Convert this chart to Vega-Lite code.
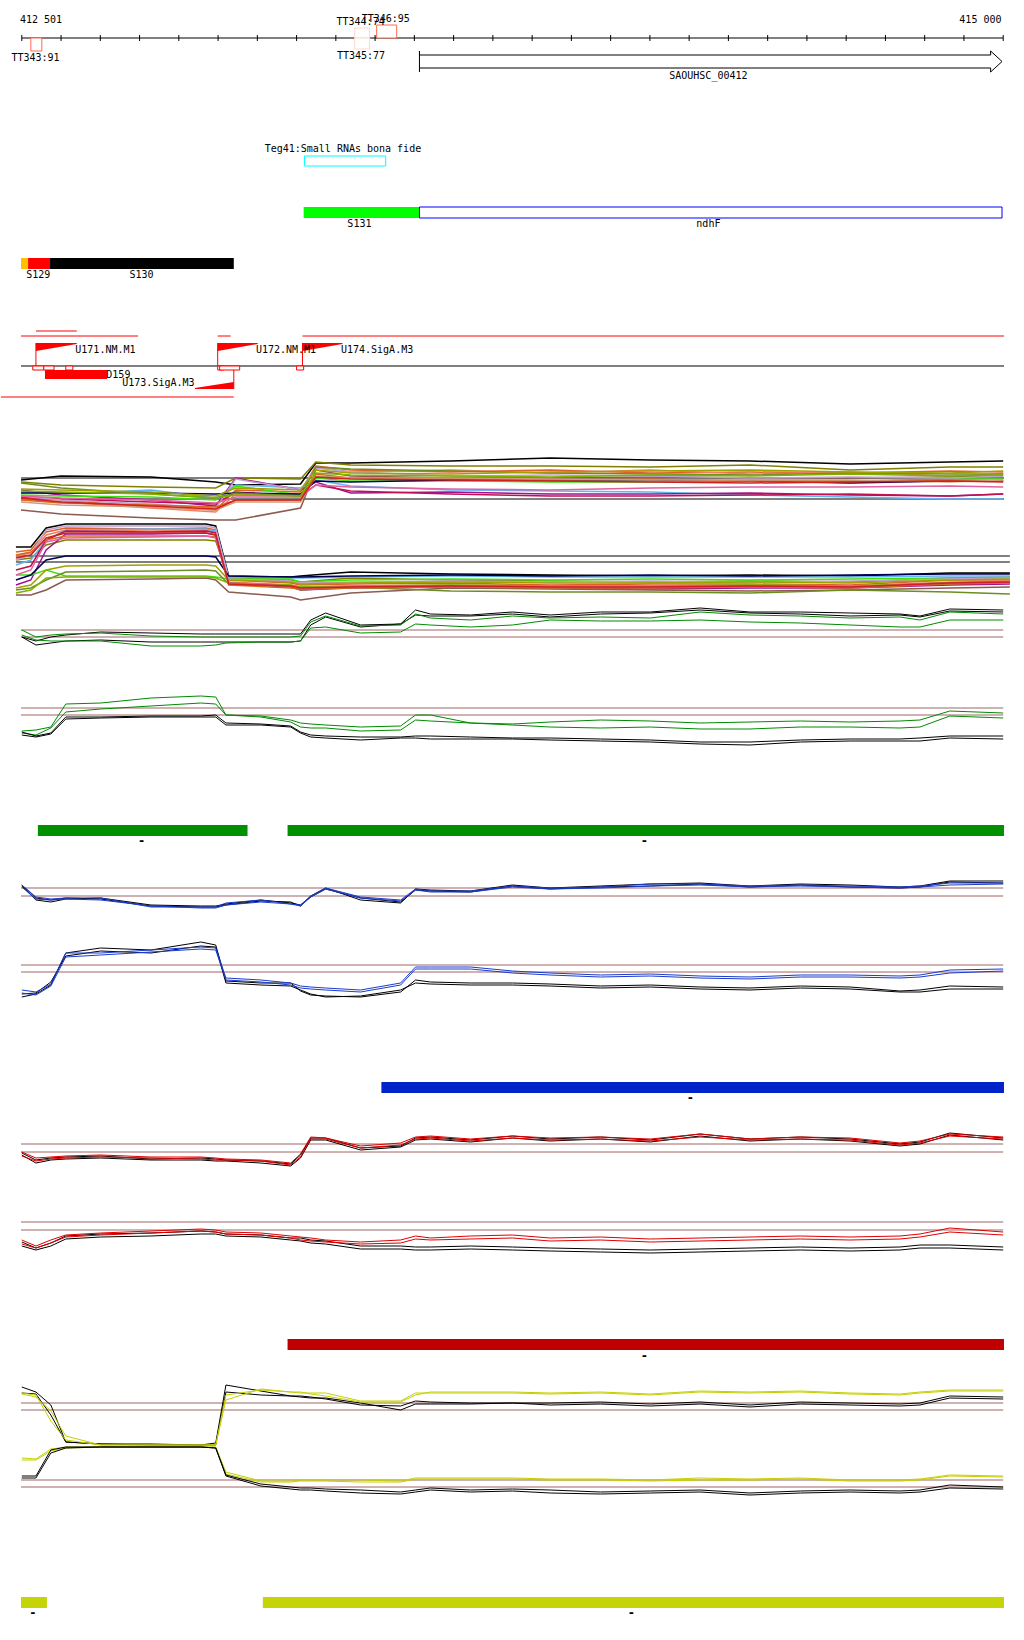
{
"$schema": "https://vega.github.io/schema/vega-lite/v6.json",
"width": 1024, "height": 1640,
"autosize": {"type": "fit", "contains": "padding"},
"padding": 0,
"background": "white",
"config": {"view": {"stroke": null}, "axis": {"disable": true}, "legend": {"disable": true}},
"datasets": {
"ticks": [{"p":412500},{"p":412600},{"p":412700},{"p":412800},{"p":412900},{"p":413000},{"p":413100},{"p":413200},{"p":413300},{"p":413400},{"p":413500},{"p":413600},{"p":413700},{"p":413800},{"p":413900},{"p":414000},{"p":414100},{"p":414200},{"p":414300},{"p":414400},{"p":414500},{"p":414600},{"p":414700},{"p":414800},{"p":414900},{"p":415000}],
"hrules": [
{"kind":"black","start":412500,"end":415000,"y":38},
{"kind":"red","start":412536,"end":412640,"y":331},
{"kind":"red","start":412498,"end":412796,"y":336},
{"kind":"red","start":412999,"end":413032,"y":336},
{"kind":"red","start":413215,"end":415002,"y":336},
{"kind":"red","start":412447,"end":413040,"y":397},
{"kind":"black","start":412498,"end":415002,"y":366},
{"kind":"black","start":412498,"end":415002,"y":478},
{"kind":"black","start":412498,"end":415002,"y":499},
{"kind":"black","start":412485,"end":415017,"y":556},
{"kind":"black","start":412485,"end":415017,"y":562},
{"kind":"thr","start":412498,"end":415000,"y":630},
{"kind":"thr","start":412498,"end":415000,"y":637},
{"kind":"thr","start":412498,"end":415000,"y":708},
{"kind":"thr","start":412498,"end":415000,"y":715},
{"kind":"thr","start":412498,"end":415000,"y":888},
{"kind":"thr","start":412498,"end":415000,"y":896},
{"kind":"thr","start":412498,"end":415000,"y":965},
{"kind":"thr","start":412498,"end":415000,"y":972},
{"kind":"thr","start":412498,"end":415000,"y":1144},
{"kind":"thr","start":412498,"end":415000,"y":1152},
{"kind":"thr","start":412498,"end":415000,"y":1222},
{"kind":"thr","start":412498,"end":415000,"y":1230},
{"kind":"thr","start":412498,"end":415000,"y":1403},
{"kind":"thr","start":412498,"end":415000,"y":1410},
{"kind":"thr","start":412498,"end":415000,"y":1480},
{"kind":"thr","start":412498,"end":415000,"y":1487}
],
"vrules": [
{"kind":"red","p":412536,"top":343,"bottom":366},
{"kind":"red","p":412999,"top":343,"bottom":366},
{"kind":"red","p":413215,"top":343,"bottom":367},
{"kind":"red","p":413040,"top":370,"bottom":389}
],
"filled": [
{"name":"S131","start":413218,"end":413513,"top":207,"bottom":218},
{"name":"S129a","start":412498,"end":412516,"top":258,"bottom":269},
{"name":"S129","start":412516,"end":412572,"top":258,"bottom":269},
{"name":"S130","start":412572,"end":413040,"top":258,"bottom":269},
{"name":"D159","start":412559,"end":412717,"top":370,"bottom":379},
{"name":"c1a","start":412541,"end":413075,"top":825,"bottom":836},
{"name":"c1b","start":413177,"end":415002,"top":825,"bottom":836},
{"name":"c2","start":413416,"end":415002,"top":1082,"bottom":1093},
{"name":"c3","start":413177,"end":415002,"top":1339,"bottom":1350},
{"name":"c4a","start":412498,"end":412564,"top":1597,"bottom":1608},
{"name":"c4b","start":413114,"end":415002,"top":1597,"bottom":1608}
],
"outlined": [
{"kind":"tt_hi","start":412523,"end":412551,"top":38,"bottom":51},
{"kind":"tt_lo","start":413348,"end":413386,"top":28,"bottom":38},
{"kind":"tt_lo","start":413348,"end":413386,"top":38,"bottom":49},
{"kind":"tt_hi","start":413404,"end":413455,"top":25,"bottom":38},
{"kind":"srna","start":413220,"end":413427,"top":156,"bottom":166},
{"kind":"cds","start":413513,"end":414997,"top":207,"bottom":218},
{"kind":"site","start":412528,"end":412556,"top":366,"bottom":370},
{"kind":"site","start":412556,"end":412582,"top":366,"bottom":370},
{"kind":"site","start":412612,"end":412630,"top":366,"bottom":370},
{"kind":"site","start":412999,"end":413014,"top":366,"bottom":370},
{"kind":"site","start":413004,"end":413055,"top":366,"bottom":370},
{"kind":"site","start":413200,"end":413218,"top":366,"bottom":370}
],
"wedges": [
{"name":"U171","p":412536,"top":343,"bottom":351},
{"name":"U171","p":412640,"top":343,"bottom":344},
{"name":"U172","p":412999,"top":343,"bottom":351},
{"name":"U172","p":413101,"top":343,"bottom":344},
{"name":"U174","p":413215,"top":343,"bottom":351},
{"name":"U174","p":413317,"top":343,"bottom":344},
{"name":"U173","p":412941,"top":388,"bottom":389},
{"name":"U173","p":413040,"top":382,"bottom":389}
],
"gene": [
{"o":1,"p":413513,"y":72},
{"o":2,"p":413513,"y":51},
{"o":3,"p":413513,"y":55},
{"o":4,"p":414968,"y":55},
{"o":5,"p":414968,"y":51},
{"o":6,"p":414997,"y":61.5},
{"o":7,"p":414968,"y":72},
{"o":8,"p":414968,"y":68},
{"o":9,"p":413513,"y":68}
],
"labels": [
{"label":"412 501","p":412549,"y":20},
{"label":"415 000","p":414942,"y":20},
{"label":"TT343:91","p":412535,"y":58},
{"label":"TT344:74","p":413363,"y":22},
{"label":"TT346:95","p":413427,"y":19},
{"label":"TT345:77","p":413364,"y":56},
{"label":"SAOUHSC_00412","p":414249,"y":76},
{"label":"Teg41:Small RNAs bona fide","p":413318,"y":149},
{"label":"S131","p":413360,"y":224},
{"label":"ndhF","p":414249,"y":224},
{"label":"S129","p":412542,"y":275},
{"label":"S130","p":412805,"y":275},
{"label":"U171.NM.M1","p":412713,"y":350},
{"label":"U172.NM.M1","p":413173,"y":350},
{"label":"U174.SigA.M3","p":413405,"y":350},
{"label":"D159","p":412746,"y":375},
{"label":"U173.SigA.M3","p":412848,"y":383}
],
"strand": [
{"label":"-","p":412805,"y":841},
{"label":"-","p":414086,"y":841},
{"label":"-","p":414203,"y":1098},
{"label":"-","p":414086,"y":1356},
{"label":"-","p":412528,"y":1613},
{"label":"-","p":414053,"y":1613}
],
"upper": [
{"p":412498,"u01":480,"u02":482,"u03":497,"u04":499,"u05":492,"u06":490,"u07":497,"u08":510,"u09":495,"u10":496,"u11":493,"u12":483,"u13":500,"u14":502,"u15":489,"u16":496,"u17":498,"u18":491},
{"p":412600,"u01":476,"u02":485,"u03":500,"u04":502,"u05":494,"u06":495,"u07":499,"u08":514,"u09":496,"u10":500,"u11":493,"u12":488,"u13":503,"u14":505,"u15":490,"u16":498,"u17":502,"u18":492},
{"p":412829,"u01":477,"u02":487,"u03":507,"u04":508,"u05":490,"u06":500,"u07":502,"u08":518,"u09":497,"u10":504,"u11":493,"u12":494,"u13":505,"u14":507,"u15":492,"u16":500,"u17":506,"u18":494},
{"p":412994,"u01":482,"u02":488,"u03":510,"u04":512,"u05":498,"u06":506,"u07":504,"u08":520,"u09":500,"u10":508,"u11":494,"u12":498,"u13":507,"u14":510,"u15":496,"u16":503,"u17":509,"u18":498},
{"p":413045,"u01":485,"u02":478,"u03":490,"u04":494,"u05":485,"u06":478,"u07":492,"u08":520,"u09":486,"u10":479,"u11":493,"u12":493,"u13":500,"u14":502,"u15":488,"u16":497,"u17":500,"u18":495},
{"p":413210,"u01":484,"u02":479,"u03":492,"u04":495,"u05":488,"u06":490,"u07":496,"u08":508,"u09":495,"u10":490,"u11":494,"u12":496,"u13":500,"u14":502,"u15":490,"u16":497,"u17":500,"u18":496},
{"p":413249,"u01":463,"u02":462,"u03":466,"u04":467,"u05":480,"u06":482,"u07":485,"u08":470,"u09":478,"u10":468,"u11":481,"u12":467,"u13":474,"u14":476,"u15":470,"u16":485,"u17":477,"u18":473},
{"p":413338,"u01":463,"u02":465,"u03":470,"u04":472,"u05":486,"u06":493,"u07":491,"u08":476,"u09":481,"u10":472,"u11":482,"u12":469,"u13":478,"u14":478,"u15":473,"u16":487,"u17":479,"u18":475},
{"p":413592,"u01":461,"u02":466,"u03":472,"u04":470,"u05":490,"u06":492,"u07":494,"u08":478,"u09":481,"u10":476,"u11":480,"u12":471,"u13":479,"u14":478,"u15":474,"u16":489,"u17":480,"u18":476},
{"p":413846,"u01":458,"u02":466,"u03":470,"u04":473,"u05":491,"u06":494,"u07":496,"u08":478,"u09":482,"u10":475,"u11":480,"u12":473,"u13":480,"u14":479,"u15":472,"u16":490,"u17":481,"u18":477},
{"p":414101,"u01":460,"u02":467,"u03":473,"u04":470,"u05":492,"u06":494,"u07":496,"u08":477,"u09":482,"u10":476,"u11":480,"u12":474,"u13":479,"u14":480,"u15":471,"u16":488,"u17":482,"u18":475},
{"p":414355,"u01":461,"u02":465,"u03":472,"u04":474,"u05":495,"u06":493,"u07":495,"u08":478,"u09":480,"u10":478,"u11":481,"u12":475,"u13":481,"u14":480,"u15":470,"u16":487,"u17":483,"u18":476},
{"p":414610,"u01":464,"u02":470,"u03":473,"u04":472,"u05":497,"u06":495,"u07":494,"u08":478,"u09":481,"u10":477,"u11":483,"u12":473,"u13":481,"u14":480,"u15":472,"u16":487,"u17":482,"u18":474},
{"p":414864,"u01":462,"u02":467,"u03":471,"u04":476,"u05":499,"u06":496,"u07":496,"u08":477,"u09":479,"u10":478,"u11":481,"u12":474,"u13":480,"u14":482,"u15":473,"u16":486,"u17":481,"u18":476},
{"p":415000,"u01":461,"u02":467,"u03":472,"u04":474,"u05":499,"u06":494,"u07":494,"u08":476,"u09":479,"u10":476,"u11":481,"u12":474,"u13":481,"u14":480,"u15":471,"u16":487,"u17":482,"u18":475}
],
"lower": [
{"p":412485,"l01":547,"l02":560,"l03":552,"l04":556,"l05":565,"l06":585,"l07":570,"l08":595,"l09":575,"l10":560,"l11":580,"l12":590,"l13":555,"l14":588,"l15":593,"l16":575,"l17":558},
{"p":412523,"l01":547,"l02":558,"l03":550,"l04":553,"l05":560,"l06":580,"l07":566,"l08":595,"l09":575,"l10":555,"l11":575,"l12":588,"l13":552,"l14":585,"l15":590,"l16":570,"l17":555},
{"p":412562,"l01":528,"l02":545,"l03":532,"l04":535,"l05":540,"l06":550,"l07":540,"l08":590,"l09":570,"l10":530,"l11":560,"l12":580,"l13":540,"l14":570,"l15":578,"l16":542,"l17":538},
{"p":412612,"l01":524,"l02":540,"l03":528,"l04":530,"l05":530,"l06":534,"l07":531,"l08":580,"l09":576,"l10":526,"l11":556,"l12":572,"l13":536,"l14":566,"l15":577,"l16":538,"l17":533},
{"p":412829,"l01":524,"l02":540,"l03":529,"l04":531,"l05":529,"l06":534,"l07":532,"l08":579,"l09":576,"l10":526,"l11":556,"l12":571,"l13":536,"l14":565,"l15":577,"l16":537,"l17":533},
{"p":412969,"l01":524,"l02":540,"l03":528,"l04":530,"l05":529,"l06":533,"l07":531,"l08":578,"l09":576,"l10":526,"l11":556,"l12":570,"l13":536,"l14":565,"l15":577,"l16":536,"l17":533},
{"p":412994,"l01":526,"l02":541,"l03":530,"l04":532,"l05":531,"l06":535,"l07":533,"l08":580,"l09":577,"l10":528,"l11":557,"l12":571,"l13":537,"l14":566,"l15":578,"l16":538,"l17":535},
{"p":413027,"l01":576,"l02":578,"l03":580,"l04":582,"l05":577,"l06":583,"l07":584,"l08":592,"l09":579,"l10":579,"l11":576,"l12":584,"l13":585,"l14":580,"l15":583,"l16":583,"l17":584},
{"p":413185,"l01":577,"l02":580,"l03":583,"l04":585,"l05":578,"l06":587,"l07":586,"l08":597,"l09":579,"l10":581,"l11":577,"l12":586,"l13":588,"l14":582,"l15":585,"l16":586,"l17":586},
{"p":413210,"l01":576,"l02":582,"l03":585,"l04":587,"l05":578,"l06":590,"l07":588,"l08":600,"l09":582,"l10":583,"l11":577,"l12":590,"l13":589,"l14":584,"l15":587,"l16":588,"l17":588},
{"p":413338,"l01":572,"l02":578,"l03":584,"l04":586,"l05":577,"l06":588,"l07":587,"l08":593,"l09":580,"l10":582,"l11":576,"l12":587,"l13":588,"l14":583,"l15":586,"l16":587,"l17":587},
{"p":413592,"l01":574,"l02":580,"l03":583,"l04":585,"l05":576,"l06":587,"l07":586,"l08":588,"l09":579,"l10":581,"l11":575,"l12":591,"l13":587,"l14":582,"l15":585,"l16":586,"l17":586},
{"p":413846,"l01":575,"l02":581,"l03":585,"l04":586,"l05":577,"l06":588,"l07":587,"l08":589,"l09":580,"l10":582,"l11":576,"l12":592,"l13":588,"l14":583,"l15":586,"l16":587,"l17":587},
{"p":414101,"l01":576,"l02":582,"l03":584,"l04":586,"l05":577,"l06":589,"l07":587,"l08":590,"l09":579,"l10":581,"l11":575,"l12":592,"l13":588,"l14":583,"l15":586,"l16":587,"l17":587},
{"p":414355,"l01":575,"l02":581,"l03":584,"l04":585,"l05":577,"l06":588,"l07":586,"l08":591,"l09":580,"l10":582,"l11":576,"l12":593,"l13":587,"l14":582,"l15":585,"l16":586,"l17":586},
{"p":414610,"l01":576,"l02":582,"l03":585,"l04":586,"l05":577,"l06":588,"l07":587,"l08":590,"l09":579,"l10":581,"l11":575,"l12":590,"l13":588,"l14":583,"l15":586,"l16":587,"l17":587},
{"p":414864,"l01":573,"l02":578,"l03":580,"l04":582,"l05":576,"l06":585,"l07":583,"l08":588,"l09":578,"l10":579,"l11":574,"l12":592,"l13":584,"l14":580,"l15":583,"l16":583,"l17":583},
{"p":415017,"l01":573,"l02":577,"l03":580,"l04":581,"l05":576,"l06":584,"l07":582,"l08":587,"l09":578,"l10":578,"l11":574,"l12":594,"l13":583,"l14":579,"l15":582,"l16":582,"l17":582}
],
"tracks": [
{"p":412500,"gA":637,"gB":637,"gC":630,"gD":635,"gE":731,"gF":733,"gG":732,"gH":735,"bA":885,"bB":886,"bC":885,"bD":887,"bE":997,"bF":994,"bG":990,"bH":993,"rA":1153,"rB":1155,"rC":1152,"rD":1156,"rE":1242,"rF":1246,"rG":1240,"rH":1244,"yA":1387,"yB":1393,"yC":1393,"yD":1394,"yE":1458,"yF":1460,"yG":1476,"yH":1478},
{"p":412536,"gA":641,"gB":645,"gC":637,"gD":640,"gE":730,"gF":735,"gG":736,"gH":737,"bA":898,"bB":900,"bC":897,"bD":899,"bE":994,"bF":993,"bG":992,"bH":995,"rA":1160,"rB":1163,"rC":1158,"rD":1161,"rE":1248,"rF":1250,"rG":1246,"rH":1248,"yA":1392,"yB":1394,"yC":1395,"yD":1397,"yE":1459,"yF":1460,"yG":1476,"yH":1478},
{"p":412574,"gA":637,"gB":643,"gC":635,"gD":641,"gE":727,"gF":728,"gG":733,"gH":734,"bA":900,"bB":902,"bC":899,"bD":900,"bE":985,"bF":982,"bG":984,"bH":986,"rA":1158,"rB":1160,"rC":1157,"rD":1159,"rE":1243,"rF":1246,"rG":1240,"rH":1243,"yA":1405,"yB":1415,"yC":1421,"yD":1411,"yE":1449,"yF":1451,"yG":1450,"yH":1453},
{"p":412612,"gA":635,"gB":641,"gC":634,"gD":641,"gE":704,"gF":712,"gG":717,"gH":719,"bA":898,"bB":899,"bC":898,"bD":899,"bE":953,"bF":956,"bG":953,"bH":957,"rA":1157,"rB":1159,"rC":1156,"rD":1158,"rE":1236,"rF":1239,"rG":1235,"rH":1237,"yA":1442,"yB":1442,"yC":1440,"yD":1436,"yE":1447,"yF":1448,"yG":1447,"yH":1448},
{"p":412701,"gA":632,"gB":640,"gC":633,"gD":641,"gE":703,"gF":709,"gG":717,"gH":718,"bA":899,"bB":898,"bC":898,"bD":900,"bE":948,"bF":951,"bG":953,"bH":955,"rA":1156,"rB":1158,"rC":1155,"rD":1157,"rE":1234,"rF":1237,"rG":1233,"rH":1235,"yA":1444,"yB":1444,"yC":1445,"yD":1445,"yE":1447,"yF":1447,"yG":1447,"yH":1447},
{"p":412829,"gA":633,"gB":642,"gC":636,"gD":646,"gE":698,"gF":706,"gG":716,"gH":717,"bA":906,"bB":905,"bC":907,"bD":906,"bE":950,"bF":953,"bG":950,"bH":952,"rA":1159,"rB":1160,"rC":1157,"rD":1158,"rE":1233,"rF":1236,"rG":1231,"rH":1233,"yA":1445,"yB":1444,"yC":1445,"yD":1445,"yE":1447,"yF":1447,"yG":1447,"yH":1447},
{"p":412956,"gA":634,"gB":642,"gC":637,"gD":646,"gE":696,"gF":703,"gG":716,"gH":717,"bA":907,"bB":906,"bC":907,"bD":908,"bE":942,"bF":946,"bG":947,"bH":949,"rA":1158,"rB":1160,"rC":1157,"rD":1159,"rE":1231,"rF":1234,"rG":1229,"rH":1231,"yA":1445,"yB":1445,"yC":1445,"yD":1445,"yE":1447,"yF":1447,"yG":1447,"yH":1447},
{"p":412994,"gA":634,"gB":642,"gC":637,"gD":645,"gE":697,"gF":704,"gG":715,"gH":717,"bA":907,"bB":906,"bC":907,"bD":908,"bE":945,"bF":947,"bG":948,"bH":950,"rA":1159,"rB":1161,"rC":1158,"rD":1160,"rE":1232,"rF":1234,"rG":1230,"rH":1232,"yA":1443,"yB":1445,"yC":1445,"yD":1445,"yE":1447,"yF":1447,"yG":1448,"yH":1448},
{"p":413020,"gA":634,"gB":642,"gC":637,"gD":643,"gE":715,"gF":715,"gG":723,"gH":725,"bA":905,"bB":904,"bC":903,"bD":905,"bE":981,"bF":983,"bG":978,"bH":980,"rA":1160,"rB":1161,"rC":1159,"rD":1160,"rE":1234,"rF":1236,"rG":1232,"rH":1234,"yA":1385,"yB":1392,"yC":1395,"yD":1400,"yE":1472,"yF":1474,"yG":1475,"yH":1476},
{"p":413109,"gA":634,"gB":642,"gC":637,"gD":642,"gE":716,"gF":717,"gG":724,"gH":725,"bA":901,"bB":900,"bC":900,"bD":902,"bE":983,"bF":985,"bG":980,"bH":982,"rA":1161,"rB":1163,"rC":1160,"rD":1161,"rE":1235,"rF":1237,"rG":1233,"rH":1235,"yA":1391,"yB":1395,"yC":1390,"yD":1389,"yE":1481,"yF":1482,"yG":1484,"yH":1486},
{"p":413185,"gA":634,"gB":642,"gC":637,"gD":642,"gE":720,"gF":722,"gG":726,"gH":727,"bA":902,"bB":903,"bC":904,"bD":904,"bE":983,"bF":986,"bG":983,"bH":985,"rA":1164,"rB":1166,"rC":1163,"rD":1165,"rE":1238,"rF":1240,"rG":1236,"rH":1238,"yA":1396,"yB":1396,"yC":1392,"yD":1392,"yE":1481,"yF":1482,"yG":1487,"yH":1489},
{"p":413210,"gA":634,"gB":641,"gC":636,"gD":641,"gE":723,"gF":727,"gG":732,"gH":733,"bA":906,"bB":905,"bC":905,"bD":906,"bE":991,"bF":990,"bG":986,"bH":988,"rA":1155,"rB":1158,"rC":1154,"rD":1157,"rE":1238,"rF":1241,"rG":1237,"rH":1240,"yA":1397,"yB":1396,"yC":1393,"yD":1392,"yE":1480,"yF":1481,"yG":1488,"yH":1490},
{"p":413236,"gA":620,"gB":625,"gC":622,"gD":628,"gE":724,"gF":728,"gG":735,"gH":737,"bA":896,"bB":897,"bC":896,"bD":897,"bE":995,"bF":994,"bG":987,"bH":989,"rA":1138,"rB":1140,"rC":1137,"rD":1139,"rE":1240,"rF":1243,"rG":1238,"rH":1241,"yA":1398,"yB":1397,"yC":1393,"yD":1394,"yE":1480,"yF":1481,"yG":1488,"yH":1490},
{"p":413274,"gA":613,"gB":617,"gC":616,"gD":627,"gE":725,"gF":728,"gG":736,"gH":738,"bA":888,"bB":889,"bC":888,"bD":889,"bE":996,"bF":997,"bG":988,"bH":990,"rA":1138,"rB":1140,"rC":1138,"rD":1139,"rE":1241,"rF":1244,"rG":1240,"rH":1242,"yA":1398,"yB":1399,"yC":1393,"yD":1396,"yE":1480,"yF":1481,"yG":1489,"yH":1491},
{"p":413363,"gA":625,"gB":627,"gC":626,"gD":633,"gE":727,"gF":731,"gG":737,"gH":740,"bA":900,"bB":898,"bC":897,"bD":898,"bE":997,"bF":996,"bG":990,"bH":992,"rA":1148,"rB":1150,"rC":1146,"rD":1148,"rE":1246,"rF":1249,"rG":1242,"rH":1244,"yA":1403,"yB":1405,"yC":1401,"yD":1402,"yE":1480,"yF":1482,"yG":1490,"yH":1493},
{"p":413465,"gA":624,"gB":624,"gC":625,"gD":632,"gE":726,"gF":730,"gG":737,"gH":738,"bA":903,"bB":902,"bC":900,"bD":901,"bE":992,"bF":990,"bG":983,"bH":985,"rA":1146,"rB":1147,"rC":1143,"rD":1145,"rE":1246,"rF":1249,"rG":1240,"rH":1243,"yA":1410,"yB":1406,"yC":1401,"yD":1402,"yE":1481,"yF":1482,"yG":1492,"yH":1494},
{"p":413503,"gA":610,"gB":615,"gC":614,"gD":624,"gE":715,"gF":720,"gG":736,"gH":738,"bA":889,"bB":890,"bC":889,"bD":890,"bE":980,"bF":983,"bG":967,"bH":969,"rA":1138,"rB":1140,"rC":1137,"rD":1139,"rE":1247,"rF":1250,"rG":1236,"rH":1239,"yA":1404,"yB":1401,"yC":1393,"yD":1395,"yE":1478,"yF":1479,"yG":1490,"yH":1492},
{"p":413541,"gA":614,"gB":616,"gC":618,"gD":625,"gE":715,"gF":721,"gG":736,"gH":739,"bA":890,"bB":891,"bC":891,"bD":892,"bE":982,"bF":984,"bG":967,"bH":969,"rA":1137,"rB":1139,"rC":1136,"rD":1138,"rE":1247,"rF":1250,"rG":1238,"rH":1240,"yA":1404,"yB":1402,"yC":1393,"yD":1392,"yE":1478,"yF":1479,"yG":1488,"yH":1490},
{"p":413643,"gA":615,"gB":616,"gC":620,"gD":627,"gE":723,"gF":723,"gG":737,"gH":739,"bA":891,"bB":892,"bC":891,"bD":892,"bE":983,"bF":985,"bG":967,"bH":969,"rA":1140,"rB":1142,"rC":1139,"rD":1141,"rE":1246,"rF":1249,"rG":1236,"rH":1239,"yA":1404,"yB":1403,"yC":1393,"yD":1392,"yE":1478,"yF":1479,"yG":1490,"yH":1492},
{"p":413750,"gA":612,"gB":614,"gC":616,"gD":625,"gE":724,"gF":725,"gG":738,"gH":739,"bA":885,"bB":886,"bC":886,"bD":887,"bE":983,"bF":985,"bG":971,"bH":973,"rA":1136,"rB":1138,"rC":1136,"rD":1138,"rE":1247,"rF":1250,"rG":1235,"rH":1238,"yA":1403,"yB":1403,"yC":1393,"yD":1392,"yE":1478,"yF":1479,"yG":1489,"yH":1491},
{"p":413846,"gA":615,"gB":617,"gC":618,"gD":620,"gE":722,"gF":727,"gG":738,"gH":740,"bA":888,"bB":889,"bC":888,"bD":889,"bE":984,"bF":986,"bG":973,"bH":975,"rA":1139,"rB":1141,"rC":1138,"rD":1140,"rE":1248,"rF":1251,"rG":1238,"rH":1241,"yA":1403,"yB":1405,"yC":1394,"yD":1393,"yE":1479,"yF":1480,"yG":1490,"yH":1493},
{"p":413974,"gA":612,"gB":614,"gC":617,"gD":621,"gE":720,"gF":728,"gG":739,"gH":741,"bA":886,"bB":887,"bC":887,"bD":888,"bE":986,"bF":988,"bG":975,"bH":977,"rA":1137,"rB":1139,"rC":1137,"rD":1139,"rE":1249,"rF":1252,"rG":1237,"rH":1240,"yA":1402,"yB":1404,"yC":1393,"yD":1392,"yE":1479,"yF":1480,"yG":1492,"yH":1494},
{"p":414101,"gA":612,"gB":613,"gC":618,"gD":621,"gE":721,"gF":727,"gG":740,"gH":742,"bA":884,"bB":886,"bC":884,"bD":886,"bE":985,"bF":987,"bG":974,"bH":976,"rA":1140,"rB":1142,"rC":1139,"rD":1141,"rE":1250,"rF":1253,"rG":1239,"rH":1242,"yA":1404,"yB":1406,"yC":1395,"yD":1394,"yE":1480,"yF":1481,"yG":1491,"yH":1493},
{"p":414228,"gA":608,"gB":610,"gC":612,"gD":620,"gE":723,"gF":729,"gG":742,"gH":744,"bA":883,"bB":884,"bC":884,"bD":885,"bE":987,"bF":989,"bG":976,"bH":978,"rA":1134,"rB":1136,"rC":1134,"rD":1137,"rE":1249,"rF":1252,"rG":1238,"rH":1241,"yA":1402,"yB":1404,"yC":1392,"yD":1391,"yE":1478,"yF":1480,"yG":1490,"yH":1492},
{"p":414355,"gA":612,"gB":613,"gC":615,"gD":622,"gE":722,"gF":729,"gG":742,"gH":745,"bA":886,"bB":887,"bC":886,"bD":887,"bE":988,"bF":990,"bG":977,"bH":979,"rA":1139,"rB":1141,"rC":1139,"rD":1140,"rE":1248,"rF":1251,"rG":1237,"rH":1240,"yA":1405,"yB":1407,"yC":1393,"yD":1392,"yE":1479,"yF":1480,"yG":1493,"yH":1495},
{"p":414483,"gA":612,"gB":614,"gC":616,"gD":623,"gE":721,"gF":727,"gG":740,"gH":742,"bA":884,"bB":885,"bC":885,"bD":886,"bE":986,"bF":988,"bG":975,"bH":977,"rA":1137,"rB":1139,"rC":1137,"rD":1139,"rE":1247,"rF":1250,"rG":1236,"rH":1239,"yA":1402,"yB":1404,"yC":1392,"yD":1391,"yE":1478,"yF":1479,"yG":1491,"yH":1493},
{"p":414610,"gA":613,"gB":616,"gC":618,"gD":625,"gE":722,"gF":727,"gG":739,"gH":741,"bA":885,"bB":887,"bC":886,"bD":887,"bE":987,"bF":989,"bG":975,"bH":977,"rA":1139,"rB":1141,"rC":1138,"rD":1140,"rE":1248,"rF":1251,"rG":1237,"rH":1240,"yA":1403,"yB":1405,"yC":1394,"yD":1393,"yE":1480,"yF":1481,"yG":1490,"yH":1492},
{"p":414737,"gA":614,"gB":615,"gC":617,"gD":627,"gE":721,"gF":728,"gG":739,"gH":741,"bA":887,"bB":888,"bC":887,"bD":888,"bE":991,"bF":992,"bG":976,"bH":978,"rA":1144,"rB":1146,"rC":1143,"rD":1145,"rE":1247,"rF":1250,"rG":1236,"rH":1239,"yA":1404,"yB":1406,"yC":1395,"yD":1394,"yE":1480,"yF":1481,"yG":1491,"yH":1493},
{"p":414788,"gA":616,"gB":617,"gC":620,"gD":627,"gE":720,"gF":727,"gG":738,"gH":741,"bA":886,"bB":887,"bC":886,"bD":887,"bE":990,"bF":992,"bG":975,"bH":977,"rA":1142,"rB":1144,"rC":1141,"rD":1143,"rE":1245,"rF":1248,"rG":1234,"rH":1237,"yA":1403,"yB":1405,"yC":1393,"yD":1392,"yE":1479,"yF":1480,"yG":1490,"yH":1492},
{"p":414864,"gA":609,"gB":611,"gC":612,"gD":620,"gE":711,"gF":716,"gG":736,"gH":738,"bA":881,"bB":882,"bC":883,"bD":885,"bE":986,"bF":989,"bG":970,"bH":973,"rA":1133,"rB":1135,"rC":1134,"rD":1136,"rE":1245,"rF":1248,"rG":1228,"rH":1232,"yA":1396,"yB":1398,"yC":1391,"yD":1390,"yE":1475,"yF":1476,"yG":1485,"yH":1488},
{"p":415000,"gA":610,"gB":612,"gC":614,"gD":620,"gE":713,"gF":718,"gG":736,"gH":739,"bA":881,"bB":883,"bC":883,"bD":884,"bE":987,"bF":989,"bG":969,"bH":971,"rA":1138,"rB":1140,"rC":1137,"rD":1139,"rE":1247,"rF":1250,"rG":1232,"rH":1235,"yA":1397,"yB":1399,"yC":1391,"yD":1390,"yE":1476,"yF":1477,"yG":1487,"yH":1489}
]
},
"resolve": {"scale": {"color": "independent", "stroke": "independent", "fill": "independent"}},
"layer": [
{
 "data": {"name": "hrules"},
 "mark": {"type": "rule", "strokeWidth": 1},
 "encoding": {
  "x": {"field": "start", "type": "quantitative", "scale": {"domain": [412447, 415053], "nice": false, "zero": false}, "axis": null},
  "x2": {"field": "end"},
  "y": {"field": "y", "type": "quantitative", "scale": {"domain": [0, 1640], "reverse": true, "nice": false, "zero": false}, "axis": null},
  "color": {"field": "kind", "type": "nominal", "scale": {"domain": ["black", "red", "thr"], "range": ["#000000", "#ff0000", "#a06464"]}, "legend": null}
 }
},
{
 "data": {"name": "ticks"},
 "mark": {"type": "rule", "strokeWidth": 1, "color": "#000000"},
 "encoding": {
  "x": {"field": "p", "type": "quantitative", "scale": {"domain": [412447, 415053], "nice": false, "zero": false}, "axis": null},
  "y": {"datum": 35, "type": "quantitative", "scale": {"domain": [0, 1640], "reverse": true, "nice": false, "zero": false}, "axis": null},
  "y2": {"datum": 41}
 }
},
{
 "data": {"name": "vrules"},
 "mark": {"type": "rule", "strokeWidth": 1, "color": "#ff0000"},
 "encoding": {
  "x": {"field": "p", "type": "quantitative", "scale": {"domain": [412447, 415053], "nice": false, "zero": false}, "axis": null},
  "y": {"field": "top", "type": "quantitative", "scale": {"domain": [0, 1640], "reverse": true, "nice": false, "zero": false}, "axis": null},
  "y2": {"field": "bottom"}
 }
},
{
 "data": {"name": "filled"},
 "mark": {"type": "rect"},
 "encoding": {
  "x": {"field": "start", "type": "quantitative", "scale": {"domain": [412447, 415053], "nice": false, "zero": false}, "axis": null},
  "x2": {"field": "end"},
  "y": {"field": "top", "type": "quantitative", "scale": {"domain": [0, 1640], "reverse": true, "nice": false, "zero": false}, "axis": null},
  "y2": {"field": "bottom"},
  "fill": {"field": "name", "type": "nominal", "scale": {"domain": ["S131", "S129a", "S129", "S130", "D159", "c1a", "c1b", "c2", "c3", "c4a", "c4b"], "range": ["#00ff00", "#ffc000", "#ff0000", "#000000", "#ff0000", "#009000", "#009000", "#0022c8", "#c00000", "#c4d406", "#c4d406"]}, "legend": null}
 }
},
{
 "data": {"name": "outlined"},
 "mark": {"type": "rect", "fill": "#ffffff", "strokeWidth": 1},
 "encoding": {
  "x": {"field": "start", "type": "quantitative", "scale": {"domain": [412447, 415053], "nice": false, "zero": false}, "axis": null},
  "x2": {"field": "end"},
  "y": {"field": "top", "type": "quantitative", "scale": {"domain": [0, 1640], "reverse": true, "nice": false, "zero": false}, "axis": null},
  "y2": {"field": "bottom"},
  "stroke": {"field": "kind", "type": "nominal", "scale": {"domain": ["tt_hi", "tt_lo", "srna", "cds", "site"], "range": ["#ff6a4d", "#fcd8cc", "#00ffff", "#0000ff", "#ff0000"]}, "legend": null}
 }
},
{
 "data": {"name": "wedges"},
 "mark": {"type": "area", "color": "#ff0000", "interpolate": "linear"},
 "encoding": {
  "x": {"field": "p", "type": "quantitative", "scale": {"domain": [412447, 415053], "nice": false, "zero": false}, "axis": null},
  "y": {"field": "top", "type": "quantitative", "scale": {"domain": [0, 1640], "reverse": true, "nice": false, "zero": false}, "axis": null},
  "y2": {"field": "bottom"},
  "detail": {"field": "name"}
 }
},
{
 "data": {"name": "gene"},
 "mark": {"type": "line", "color": "#000000", "strokeWidth": 1},
 "encoding": {
  "x": {"field": "p", "type": "quantitative", "scale": {"domain": [412447, 415053], "nice": false, "zero": false}, "axis": null},
  "y": {"field": "y", "type": "quantitative", "scale": {"domain": [0, 1640], "reverse": true, "nice": false, "zero": false}, "axis": null},
  "order": {"field": "o"}
 }
},
{
 "data": {"name": "upper"},
 "transform": [{"fold": ["u01","u02","u03","u04","u05","u06","u07","u08","u09","u10","u11","u12","u13","u14","u15","u16","u17","u18"], "as": ["s", "v"]}],
 "mark": {"type": "line", "strokeWidth": 1.5},
 "encoding": {
  "x": {"field": "p", "type": "quantitative", "scale": {"domain": [412447, 415053], "nice": false, "zero": false}, "axis": null},
  "y": {"field": "v", "type": "quantitative", "scale": {"domain": [0, 1640], "reverse": true, "nice": false, "zero": false}, "axis": null},
  "color": {"field": "s", "type": "nominal", "scale": {"domain": ["u01","u02","u03","u04","u05","u06","u07","u08","u09","u10","u11","u12","u13","u14","u15","u16","u17","u18"], "range": ["#000000","#808000","#e0602a","#f08060","#64b4f0","#a01090","#c01050","#8b5a50","#40e010","#c0a0d0","#000050","#6b8e23","#d2691e","#d29c7a","#a0a000","#e060a0","#d02020","#80b000"]}, "legend": null}
 }
},
{
 "data": {"name": "lower"},
 "transform": [{"fold": ["l01","l02","l03","l04","l05","l06","l07","l08","l09","l10","l11","l12","l13","l14","l15","l16","l17"], "as": ["s", "v"]}],
 "mark": {"type": "line", "strokeWidth": 1.5},
 "encoding": {
  "x": {"field": "p", "type": "quantitative", "scale": {"domain": [412447, 415053], "nice": false, "zero": false}, "axis": null},
  "y": {"field": "v", "type": "quantitative", "scale": {"domain": [0, 1640], "reverse": true, "nice": false, "zero": false}, "axis": null},
  "color": {"field": "s", "type": "nominal", "scale": {"domain": ["l01","l02","l03","l04","l05","l06","l07","l08","l09","l10","l11","l12","l13","l14","l15","l16","l17"], "range": ["#000000","#808000","#e0602a","#f08060","#64b4f0","#a01090","#c01050","#8b5a50","#40e010","#c0a0d0","#000050","#6b8e23","#d2691e","#a0a000","#80b000","#e060a0","#d02020"]}, "legend": null}
 }
},
{
 "data": {"name": "tracks"},
 "transform": [{"fold": ["gA","gB","gC","gD","gE","gF","gG","gH","bA","bB","bC","bD","bE","bF","bG","bH","rA","rB","rC","rD","rE","rF","rG","rH","yA","yB","yC","yD","yE","yF","yG","yH"], "as": ["s", "v"]}],
 "mark": {"type": "line", "strokeWidth": 1},
 "encoding": {
  "x": {"field": "p", "type": "quantitative", "scale": {"domain": [412447, 415053], "nice": false, "zero": false}, "axis": null},
  "y": {"field": "v", "type": "quantitative", "scale": {"domain": [0, 1640], "reverse": true, "nice": false, "zero": false}, "axis": null},
  "color": {"field": "s", "type": "nominal", "scale": {"domain": ["gA","gB","gC","gD","gE","gF","gG","gH","bA","bB","bC","bD","bE","bF","bG","bH","rA","rB","rC","rD","rE","rF","rG","rH","yA","yB","yC","yD","yE","yF","yG","yH"], "range": ["#000000","#000000","#008a00","#008a00","#008a00","#008a00","#000000","#000000","#000000","#000000","#1a3ccc","#1a3ccc","#000000","#000000","#1a3ccc","#1a3ccc","#000000","#000000","#e00000","#e00000","#000000","#000000","#e00000","#e00000","#000000","#000000","#c4d000","#c4d000","#c4d000","#c4d000","#000000","#000000"]}, "legend": null}
 }
},
{
 "data": {"name": "labels"},
 "mark": {"type": "text", "font": "DejaVu Sans Mono", "fontSize": 10, "align": "center", "baseline": "middle", "color": "#000000"},
 "encoding": {
  "x": {"field": "p", "type": "quantitative", "scale": {"domain": [412447, 415053], "nice": false, "zero": false}, "axis": null},
  "y": {"field": "y", "type": "quantitative", "scale": {"domain": [0, 1640], "reverse": true, "nice": false, "zero": false}, "axis": null},
  "text": {"field": "label", "type": "nominal"}
 }
},
{
 "data": {"name": "strand"},
 "mark": {"type": "text", "font": "DejaVu Sans Mono", "fontSize": 12, "fontWeight": "bold", "align": "center", "baseline": "middle", "color": "#000000"},
 "encoding": {
  "x": {"field": "p", "type": "quantitative", "scale": {"domain": [412447, 415053], "nice": false, "zero": false}, "axis": null},
  "y": {"field": "y", "type": "quantitative", "scale": {"domain": [0, 1640], "reverse": true, "nice": false, "zero": false}, "axis": null},
  "text": {"field": "label", "type": "nominal"}
 }
}
]
}
